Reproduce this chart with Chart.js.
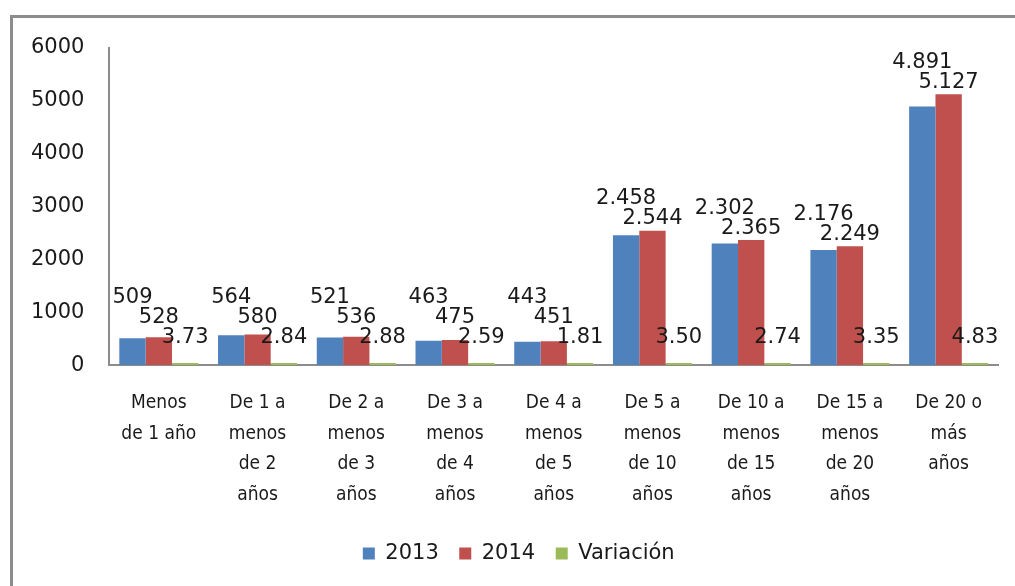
<!DOCTYPE html>
<html>
<head>
<meta charset="utf-8">
<script src="https://cdn.jsdelivr.net/npm/chart.js@4.4.1/dist/chart.umd.min.js"></script>
<style>
    body { margin: 0; background: #fff; overflow: hidden; }
    #frame { position: absolute; left: 10px; top: 15px; width: 1100px; height: 700px; border: 3px solid #8c8c8c; }
    #wrap { position: absolute; left: 0; top: 0; width: 1015px; height: 586px; }
</style>
</head>
<body>
<div id="frame"></div>
<div id="wrap"><canvas id="chart" width="1015" height="586"></canvas></div>
<script>
// Data
const categories = [
    ['Menos', 'de 1 año'],
    ['De 1 a', 'menos', 'de 2', 'años'],
    ['De 2 a', 'menos', 'de 3', 'años'],
    ['De 3 a', 'menos', 'de 4', 'años'],
    ['De 4 a', 'menos', 'de 5', 'años'],
    ['De 5 a', 'menos', 'de 10', 'años'],
    ['De 10 a', 'menos', 'de 15', 'años'],
    ['De 15 a', 'menos', 'de 20', 'años'],
    ['De 20 o', 'más', 'años']
];
const values2013 = [509, 564, 521, 463, 443, 2458, 2302, 2176, 4891];
const values2014 = [528, 580, 536, 475, 451, 2544, 2365, 2249, 5127];
const variacion = [3.73, 2.84, 2.88, 2.59, 1.81, 3.50, 2.74, 3.35, 4.83];
const yTicks = [0, 1000, 2000, 3000, 4000, 5000, 6000];

const numFont = '"DejaVu Sans", sans-serif';
const catFont = '"DejaVu Sans Condensed", "Liberation Sans", sans-serif';

// Format numbers the way the source does (dot as thousands separator)
function fmt(v, dsIndex) {
    if (dsIndex === 2) return v.toFixed(2);
    return v >= 1000 ? Math.floor(v / 1000) + '.' + String(v % 1000).padStart(3, '0') : String(v);
}

// Data labels with simple stacking so they don't overlap
const labelPlugin = {
    id: 'barLabels',
    afterDatasetsDraw(chart) {
        const ctx = chart.ctx;
        ctx.save();
        ctx.font = '21px ' + numFont;
        ctx.fillStyle = '#1a1a1a';
        ctx.textAlign = 'center';
        ctx.textBaseline = 'middle';
        const lift = [12, 12, 26];
        const h = 20;
        for (let i = 0; i < categories.length; i++) {
            const placed = [];
            for (let d = 2; d >= 0; d--) {
                const bar = chart.getDatasetMeta(d).data[i];
                const text = fmt(chart.data.datasets[d].data[i], d);
                const w = ctx.measureText(text).width;
                let cy = bar.y - lift[d];
                let moved = true;
                while (moved) {
                    moved = false;
                    for (const p of placed) {
                        const xOver = bar.x - w / 2 < p.x + p.w / 2 && bar.x + w / 2 > p.x - p.w / 2;
                        const yOver = cy - h / 2 < p.y + h / 2 && cy + h / 2 > p.y - h / 2;
                        if (xOver && yOver) {
                            cy = p.y - h;
                            moved = true;
                        }
                    }
                }
                placed.push({ x: bar.x, y: cy, w: w });
                ctx.fillText(text, bar.x, cy);
            }
        }
        ctx.restore();
    }
};

// Nudge the legend a bit to the right, like the original
const legendShift = {
    id: 'legendShift',
    afterLayout(chart) {
        chart.legend.left += 22;
        chart.legend.right += 22;
    }
};

const ctx = document.getElementById('chart').getContext('2d');
new Chart(ctx, {
    type: 'bar',
    data: {
        labels: categories,
        datasets: [
            { label: '2013', data: values2013, backgroundColor: '#4f81bd' },
            { label: '2014', data: values2014, backgroundColor: '#c0504d' },
            { label: 'Variación', data: variacion, backgroundColor: '#9bbb59', minBarLength: 2 }
        ]
    },
    options: {
        responsive: false,
        animation: false,
        layout: { padding: { left: 6, right: 17, top: 48, bottom: 12 } },
        datasets: { bar: { categoryPercentage: 0.8, barPercentage: 1.0 } },
        scales: {
            x: {
                grid: { display: false, drawTicks: false },
                border: { display: true, color: '#8c8c8c', width: 2 },
                ticks: {
                    color: '#1a1a1a',
                    padding: 22,
                    maxRotation: 0,
                    autoSkip: false,
                    font: { family: catFont, size: 19, lineHeight: 1.63 }
                }
            },
            y: {
                min: 0,
                max: 6000,
                afterBuildTicks: axis => { axis.ticks = yTicks.map(v => ({ value: v })); },
                grid: { display: false, drawTicks: false },
                border: { display: true, color: '#8c8c8c', width: 2 },
                ticks: {
                    color: '#1a1a1a',
                    padding: 25,
                    font: { family: numFont, size: 21 },
                    callback: v => String(v)
                }
            }
        },
        plugins: {
            tooltip: { enabled: false },
            legend: {
                position: 'bottom',
                labels: {
                    color: '#1a1a1a',
                    boxWidth: 12,
                    boxHeight: 12,
                    padding: 10,
                    font: { family: numFont, size: 21 },
                    generateLabels: chart => Chart.defaults.plugins.legend.labels.generateLabels(chart)
                        .map(item => Object.assign(item, { text: item.text + '\u2002' }))
                }
            }
        }
    },
    plugins: [labelPlugin, legendShift]
});
</script>
</body>
</html>
